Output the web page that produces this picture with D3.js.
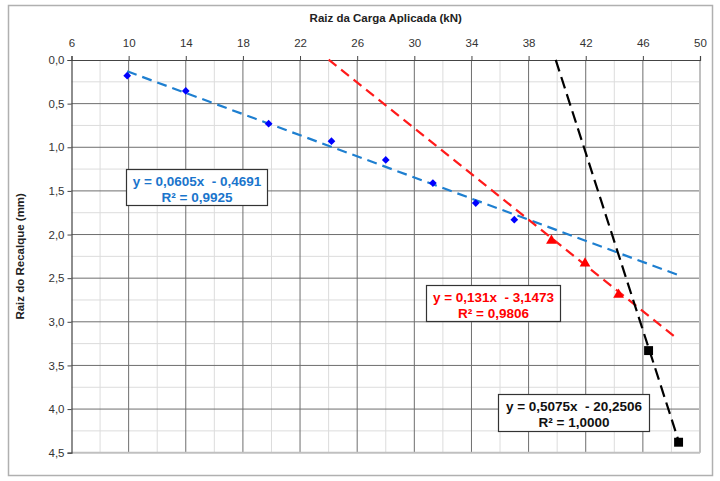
<!DOCTYPE html>
<html><head><meta charset="utf-8">
<script src="https://cdn.jsdelivr.net/npm/d3@7"></script>
<style>body{margin:0;background:#fff}svg{display:block}</style>
</head><body>
<svg id="c" width="720" height="481"></svg>
<script>
// Data
const blueX = [9.9, 14.0, 19.8, 24.2, 28.0, 31.3, 34.3, 37.0];
const blueY = [0.18, 0.355, 0.73, 0.93, 1.145, 1.41, 1.64, 1.83];
const redX = [39.6, 41.95, 44.3];
const redY = [2.07, 2.33, 2.69];
const blackX = [46.4, 48.5];
const blackY = [3.33, 4.38];
// Trendlines: slope, intercept, x-range
const blueFit = [0.0605, -0.4691];
const redFit = [0.131, -3.1473];
const blackFit = [0.5075, -20.2506];
const blueRange = [9.9, 48.5];
const redRange = [24.0, 48.35];
const blackRange = [39.9, 48.5];
const blueLabel = ["y = 0,0605x  - 0,4691", "R² = 0,9925"];
const redLabel = ["y = 0,131x  - 3,1473", "R² = 0,9806"];
const blackLabel = ["y = 0,5075x  - 20,2506", "R² = 1,0000"];
const xTicks = [6, 10, 14, 18, 22, 26, 30, 34, 38, 42, 46, 50];
const yTicks = [0, 0.5, 1, 1.5, 2, 2.5, 3, 3.5, 4, 4.5];

const svg = d3.select("#c");
const font = "'Liberation Sans', Arial, sans-serif";
svg.append("rect").attr("x", 8.5).attr("y", 5.5).attr("width", 704).attr("height", 470)
  .attr("fill", "none").attr("stroke", "#b0b0b0").attr("stroke-width", 1.5);

const L = 71.5, R = 700, T = 60, B = 452.7;
const x = d3.scaleLinear().domain([6, 50]).range([L, R]);
const y = d3.scaleLinear().domain([0, 4.5]).range([T, B]);

const g = svg.append("g");
// minor grid
g.selectAll(".vm").data(d3.range(8, 50, 4)).enter().append("line")
  .attr("x1", d => x(d)).attr("x2", d => x(d)).attr("y1", T).attr("y2", B)
  .attr("stroke", "#dcdcdc").attr("stroke-width", 1);
g.selectAll(".hm").data(d3.range(0.25, 4.5, 0.5)).enter().append("line")
  .attr("y1", d => y(d)).attr("y2", d => y(d)).attr("x1", L).attr("x2", R)
  .attr("stroke", "#dcdcdc").attr("stroke-width", 1);
// major grid
g.selectAll(".vM").data(xTicks.slice(1, -1)).enter().append("line")
  .attr("x1", d => x(d)).attr("x2", d => x(d)).attr("y1", T).attr("y2", B)
  .attr("stroke", "#6e6e6e").attr("stroke-width", 1);
g.selectAll(".hM").data(yTicks.slice(1, -1)).enter().append("line")
  .attr("y1", d => y(d)).attr("y2", d => y(d)).attr("x1", L).attr("x2", R)
  .attr("stroke", "#6e6e6e").attr("stroke-width", 1);
// plot borders right/bottom
g.append("line").attr("x1", R).attr("x2", R).attr("y1", T).attr("y2", B).attr("stroke", "#c0c0c0").attr("stroke-width", 2);
g.append("line").attr("x1", L).attr("x2", R).attr("y1", B).attr("y2", B).attr("stroke", "#c0c0c0").attr("stroke-width", 2);

// axes
const xa = svg.append("g").attr("transform", `translate(0,${T})`)
  .call(d3.axisTop(x).tickValues(xTicks).tickSize(4).tickFormat(d3.format("d")));
const ya = svg.append("g").attr("transform", `translate(${L},0)`)
  .call(d3.axisLeft(y).tickValues(yTicks).tickSize(4).tickFormat(d => d.toFixed(1).replace(".", ",")));
[xa, ya].forEach(a => {
  a.select(".domain").attr("stroke", "#444").attr("stroke-width", 1.2);
  a.selectAll(".tick line").attr("stroke", "#444");
  a.selectAll("text").attr("font-family", font).attr("font-size", 11.5).attr("fill", "#333");
});
xa.selectAll("text").attr("dy", "-0.5em");

svg.append("text").attr("x", (L + R) / 2).attr("y", 22).attr("text-anchor", "middle")
  .attr("font-family", font).attr("font-weight", "bold").attr("font-size", 11.5).attr("fill", "#222")
  .text("Raiz da Carga Aplicada (kN)");
svg.append("text").attr("transform", `translate(24,${(T + B) / 2}) rotate(-90)`).attr("text-anchor", "middle")
  .attr("font-family", font).attr("font-weight", "bold").attr("font-size", 11.5).attr("fill", "#222")
  .text("Raiz do Recalque (mm)");

// trendlines
function trend(fit, range, color, dash) {
  const pts = range.map(v => [v, fit[0] * v + fit[1]]);
  svg.append("line").attr("x1", x(pts[0][0])).attr("y1", y(pts[0][1]))
    .attr("x2", x(pts[1][0])).attr("y2", y(pts[1][1]))
    .attr("stroke", color).attr("stroke-width", 2.2).attr("stroke-dasharray", dash);
}
trend(blueFit, blueRange, "#1e7fd0", "10,6");
trend(redFit, redRange, "#ff1a1a", "10,6");
trend(blackFit, blackRange, "#000", "12,6");

// points
function pts(xs, ys, type, size, color, rot) {
  svg.append("g").selectAll("path").data(xs).enter().append("path")
    .attr("transform", (d, i) => `translate(${x(d)},${y(ys[i])}) rotate(${rot})`)
    .attr("d", d3.symbol().type(type).size(size)).attr("fill", color);
}
pts(blueX, blueY, d3.symbolSquare, 30, "#0000ff", 45);
pts(redX, redY, d3.symbolTriangle, 50, "#ff0000", 0);
pts(blackX, blackY, d3.symbolSquare, 80, "#000", 0);

// labels
function label(lines, bx, by, bw, bh, color) {
  const gg = svg.append("g");
  gg.append("rect").attr("x", bx).attr("y", by).attr("width", bw).attr("height", bh)
    .attr("fill", "#fff").attr("stroke", "#333").attr("stroke-width", 1.2);
  lines.forEach((t, i) => gg.append("text").attr("x", bx + bw / 2).attr("y", by + 16 + i * 16)
    .attr("text-anchor", "middle").attr("font-family", font).attr("font-weight", "bold")
    .attr("font-size", 13.5).attr("fill", color).attr("xml:space", "preserve").text(t));
}
label(blueLabel, 126.5, 169.5, 141, 36, "#1a75cc");
label(redLabel, 426.5, 285.5, 134, 36, "#ff0000");
label(blackLabel, 498.5, 394.5, 151, 37, "#111");
</script>
</body></html>
